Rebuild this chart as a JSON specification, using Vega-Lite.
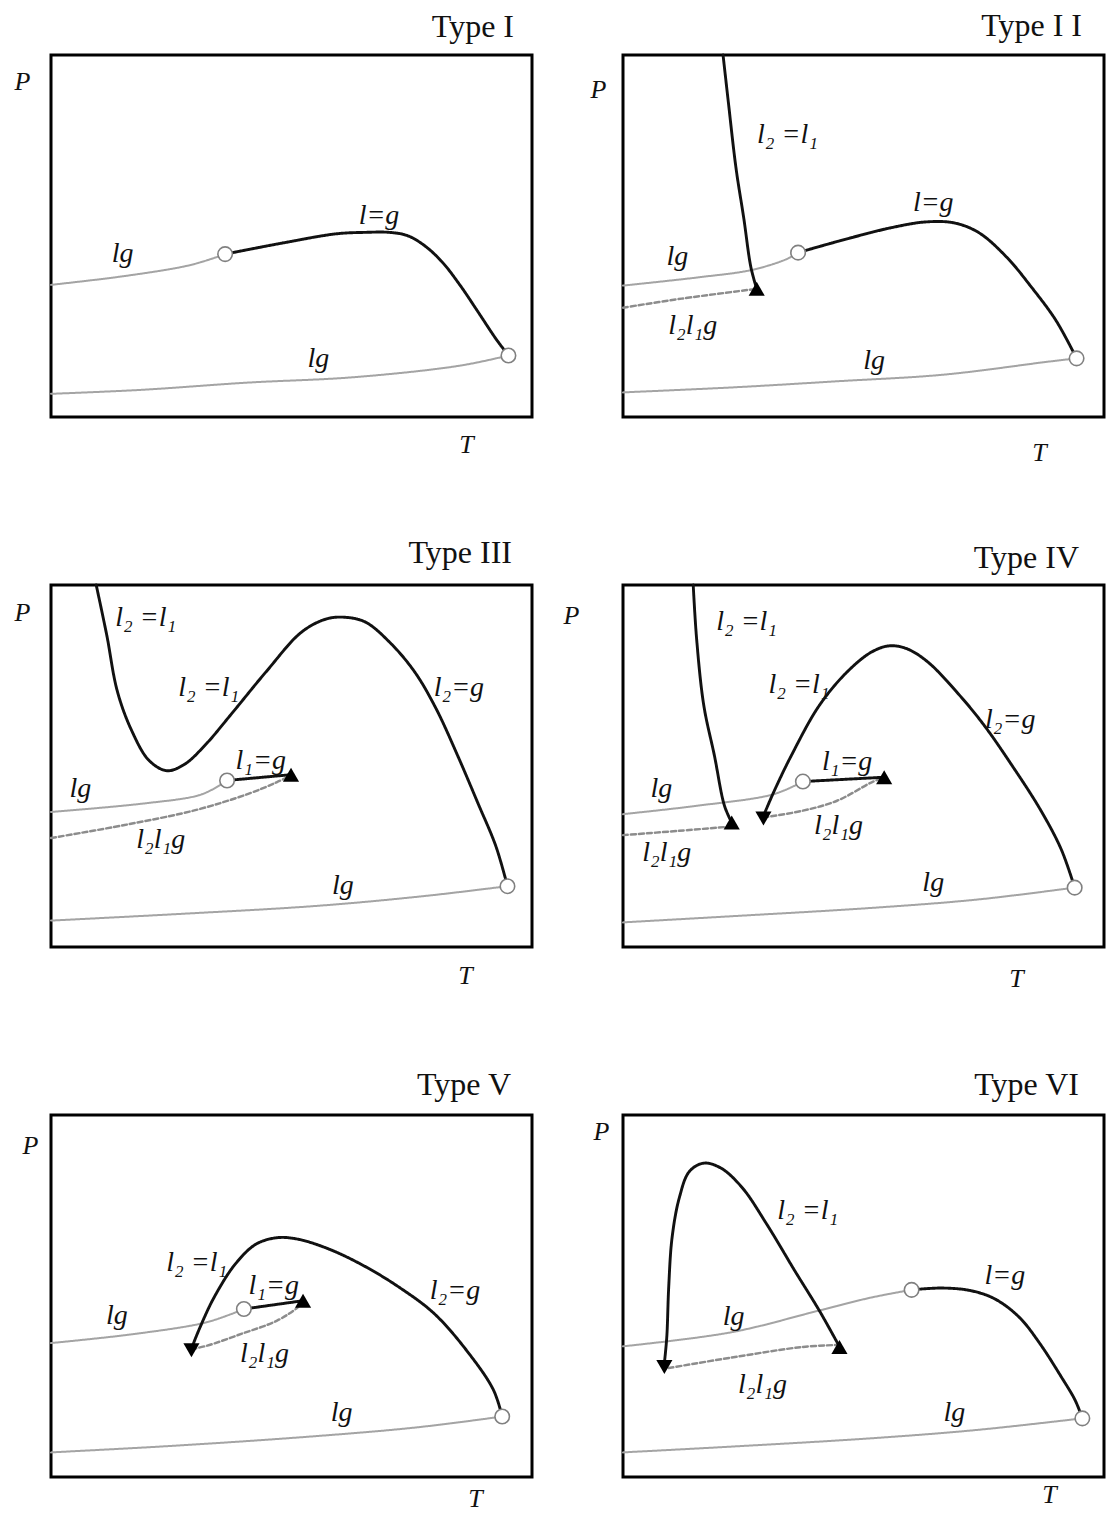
{
  "$schema": "https://vega.github.io/schema/vega-lite/v6.json",
  "background": "white",
  "padding": {"left": 12, "top": 8, "right": 0, "bottom": 0},
  "columns": 2,
  "spacing": {"row": 168, "column": 91},
  "bounds": "flush",
  "config": {
    "view": {"stroke": "#000000", "strokeWidth": 3},
    "font": "Liberation Serif",
    "title": {"font": "Liberation Serif", "fontSize": 32, "fontWeight": "normal", "anchor": "end", "frame": "group", "baseline": "alphabetic", "color": "#111111"},
    "axis": {"domain": false, "ticks": false, "labels": false, "grid": false, "titleFont": "Liberation Serif", "titleFontStyle": "italic", "titleFontWeight": "normal", "titleFontSize": 26, "titleAngle": 0, "titleAlign": "center", "titleBaseline": "middle", "titleColor": "#111111"},
    "line": {"interpolate": "catmull-rom", "clip": true, "strokeCap": "round"},
    "point": {"opacity": 1},
    "text": {"font": "Liberation Serif", "fontStyle": "italic", "fontSize": 28, "color": "#111111"}
  },
  "datasets": {
    "curves": [
      {"panel": "I", "curve": "a", "style": "lg", "i": 1, "T": 0, "P": 36.5},
      {"panel": "I", "curve": "a", "style": "lg", "i": 2, "T": 15.1, "P": 38.9},
      {"panel": "I", "curve": "a", "style": "lg", "i": 3, "T": 28.4, "P": 41.8},
      {"panel": "I", "curve": "a", "style": "lg", "i": 4, "T": 34.3, "P": 44.1},
      {"panel": "I", "curve": "a", "style": "lg", "i": 5, "T": 36.2, "P": 45.0},
      {"panel": "I", "curve": "b", "style": "lg", "i": 1, "T": 0, "P": 6.4},
      {"panel": "I", "curve": "b", "style": "lg", "i": 2, "T": 18.8, "P": 7.5},
      {"panel": "I", "curve": "b", "style": "lg", "i": 3, "T": 40.9, "P": 9.5},
      {"panel": "I", "curve": "b", "style": "lg", "i": 4, "T": 63.0, "P": 11.0},
      {"panel": "I", "curve": "b", "style": "lg", "i": 5, "T": 85.1, "P": 14.2},
      {"panel": "I", "curve": "b", "style": "lg", "i": 6, "T": 95.1, "P": 17.0},
      {"panel": "I", "curve": "c", "style": "crit", "i": 1, "T": 36.2, "P": 45.0},
      {"panel": "I", "curve": "c", "style": "crit", "i": 2, "T": 48.3, "P": 48.1},
      {"panel": "I", "curve": "c", "style": "crit", "i": 3, "T": 59.3, "P": 50.6},
      {"panel": "I", "curve": "c", "style": "crit", "i": 4, "T": 65.2, "P": 51.0},
      {"panel": "I", "curve": "c", "style": "crit", "i": 5, "T": 70.4, "P": 51.0},
      {"panel": "I", "curve": "c", "style": "crit", "i": 6, "T": 74.1, "P": 50.1},
      {"panel": "I", "curve": "c", "style": "crit", "i": 7, "T": 77.7, "P": 47.3},
      {"panel": "I", "curve": "c", "style": "crit", "i": 8, "T": 81.4, "P": 42.7},
      {"panel": "I", "curve": "c", "style": "crit", "i": 9, "T": 85.1, "P": 36.3},
      {"panel": "I", "curve": "c", "style": "crit", "i": 10, "T": 88.8, "P": 29.0},
      {"panel": "I", "curve": "c", "style": "crit", "i": 11, "T": 92.5, "P": 21.6},
      {"panel": "I", "curve": "c", "style": "crit", "i": 12, "T": 95.1, "P": 17.0},

      {"panel": "II", "curve": "a", "style": "lg", "i": 1, "T": 0, "P": 36.3},
      {"panel": "II", "curve": "a", "style": "lg", "i": 2, "T": 15.8, "P": 38.6},
      {"panel": "II", "curve": "a", "style": "lg", "i": 3, "T": 26.7, "P": 40.6},
      {"panel": "II", "curve": "a", "style": "lg", "i": 4, "T": 34.0, "P": 43.6},
      {"panel": "II", "curve": "a", "style": "lg", "i": 5, "T": 36.4, "P": 45.4},
      {"panel": "II", "curve": "b", "style": "lg", "i": 1, "T": 0, "P": 6.8},
      {"panel": "II", "curve": "b", "style": "lg", "i": 2, "T": 23.1, "P": 8.2},
      {"panel": "II", "curve": "b", "style": "lg", "i": 3, "T": 44.9, "P": 9.9},
      {"panel": "II", "curve": "b", "style": "lg", "i": 4, "T": 66.7, "P": 11.7},
      {"panel": "II", "curve": "b", "style": "lg", "i": 5, "T": 88.5, "P": 15.3},
      {"panel": "II", "curve": "b", "style": "lg", "i": 6, "T": 94.3, "P": 16.2},
      {"panel": "II", "curve": "d", "style": "llg", "i": 1, "T": 0, "P": 30.2},
      {"panel": "II", "curve": "d", "style": "llg", "i": 2, "T": 12.2, "P": 32.7},
      {"panel": "II", "curve": "d", "style": "llg", "i": 3, "T": 27.8, "P": 35.4},
      {"panel": "II", "curve": "e", "style": "crit", "i": 1, "T": 20.8, "P": 100},
      {"panel": "II", "curve": "e", "style": "crit", "i": 2, "T": 21.9, "P": 87.0},
      {"panel": "II", "curve": "e", "style": "crit", "i": 3, "T": 23.5, "P": 68.7},
      {"panel": "II", "curve": "e", "style": "crit", "i": 4, "T": 25.1, "P": 55.0},
      {"panel": "II", "curve": "e", "style": "crit", "i": 5, "T": 26.6, "P": 41.3},
      {"panel": "II", "curve": "e", "style": "crit", "i": 6, "T": 27.8, "P": 35.4},
      {"panel": "II", "curve": "c", "style": "crit", "i": 1, "T": 36.4, "P": 45.4},
      {"panel": "II", "curve": "c", "style": "crit", "i": 2, "T": 44.9, "P": 48.6},
      {"panel": "II", "curve": "c", "style": "crit", "i": 3, "T": 55.8, "P": 52.3},
      {"panel": "II", "curve": "c", "style": "crit", "i": 4, "T": 63.1, "P": 53.9},
      {"panel": "II", "curve": "c", "style": "crit", "i": 5, "T": 68.9, "P": 53.6},
      {"panel": "II", "curve": "c", "style": "crit", "i": 6, "T": 74.0, "P": 50.9},
      {"panel": "II", "curve": "c", "style": "crit", "i": 7, "T": 79.8, "P": 44.1},
      {"panel": "II", "curve": "c", "style": "crit", "i": 8, "T": 84.9, "P": 35.9},
      {"panel": "II", "curve": "c", "style": "crit", "i": 9, "T": 90.0, "P": 26.7},
      {"panel": "II", "curve": "c", "style": "crit", "i": 10, "T": 94.3, "P": 16.2},

      {"panel": "III", "curve": "a", "style": "lg", "i": 1, "T": 0, "P": 37.3},
      {"panel": "III", "curve": "a", "style": "lg", "i": 2, "T": 19.0, "P": 39.6},
      {"panel": "III", "curve": "a", "style": "lg", "i": 3, "T": 30.7, "P": 41.9},
      {"panel": "III", "curve": "a", "style": "lg", "i": 4, "T": 34.5, "P": 44.2},
      {"panel": "III", "curve": "a", "style": "lg", "i": 5, "T": 36.6, "P": 46.0},
      {"panel": "III", "curve": "b", "style": "lg", "i": 1, "T": 0, "P": 7.3},
      {"panel": "III", "curve": "b", "style": "lg", "i": 2, "T": 26.3, "P": 9.1},
      {"panel": "III", "curve": "b", "style": "lg", "i": 3, "T": 55.7, "P": 11.4},
      {"panel": "III", "curve": "b", "style": "lg", "i": 4, "T": 77.8, "P": 14.1},
      {"panel": "III", "curve": "b", "style": "lg", "i": 5, "T": 94.9, "P": 16.8},
      {"panel": "III", "curve": "d", "style": "llg", "i": 1, "T": 0, "P": 30.1},
      {"panel": "III", "curve": "d", "style": "llg", "i": 2, "T": 15.3, "P": 33.7},
      {"panel": "III", "curve": "d", "style": "llg", "i": 3, "T": 30.0, "P": 37.8},
      {"panel": "III", "curve": "d", "style": "llg", "i": 4, "T": 41.0, "P": 42.3},
      {"panel": "III", "curve": "d", "style": "llg", "i": 5, "T": 46.9, "P": 45.5},
      {"panel": "III", "curve": "d", "style": "llg", "i": 6, "T": 49.9, "P": 47.4},
      {"panel": "III", "curve": "f", "style": "crit", "i": 1, "T": 36.6, "P": 46.0},
      {"panel": "III", "curve": "f", "style": "crit", "i": 2, "T": 49.9, "P": 47.6},
      {"panel": "III", "curve": "e", "style": "crit", "i": 1, "T": 9.4, "P": 100},
      {"panel": "III", "curve": "e", "style": "crit", "i": 2, "T": 11.6, "P": 86.1},
      {"panel": "III", "curve": "e", "style": "crit", "i": 3, "T": 13.8, "P": 70.6},
      {"panel": "III", "curve": "e", "style": "crit", "i": 4, "T": 16.8, "P": 59.7},
      {"panel": "III", "curve": "e", "style": "crit", "i": 5, "T": 20.4, "P": 51.5},
      {"panel": "III", "curve": "e", "style": "crit", "i": 6, "T": 24.1, "P": 48.7},
      {"panel": "III", "curve": "e", "style": "crit", "i": 7, "T": 27.8, "P": 50.5},
      {"panel": "III", "curve": "e", "style": "crit", "i": 8, "T": 32.2, "P": 56.0},
      {"panel": "III", "curve": "e", "style": "crit", "i": 9, "T": 37.4, "P": 64.2},
      {"panel": "III", "curve": "e", "style": "crit", "i": 10, "T": 44.7, "P": 76.0},
      {"panel": "III", "curve": "e", "style": "crit", "i": 11, "T": 52.1, "P": 87.0},
      {"panel": "III", "curve": "e", "style": "crit", "i": 12, "T": 57.2, "P": 90.6},
      {"panel": "III", "curve": "e", "style": "crit", "i": 13, "T": 60.9, "P": 91.1},
      {"panel": "III", "curve": "e", "style": "crit", "i": 14, "T": 65.3, "P": 89.8},
      {"panel": "III", "curve": "e", "style": "crit", "i": 15, "T": 70.4, "P": 84.2},
      {"panel": "III", "curve": "e", "style": "crit", "i": 16, "T": 75.6, "P": 76.0},
      {"panel": "III", "curve": "e", "style": "crit", "i": 17, "T": 80.0, "P": 66.0},
      {"panel": "III", "curve": "e", "style": "crit", "i": 18, "T": 84.4, "P": 53.3},
      {"panel": "III", "curve": "e", "style": "crit", "i": 19, "T": 88.8, "P": 39.6},
      {"panel": "III", "curve": "e", "style": "crit", "i": 20, "T": 92.5, "P": 27.8},
      {"panel": "III", "curve": "e", "style": "crit", "i": 21, "T": 94.9, "P": 16.8},

      {"panel": "IV", "curve": "a", "style": "lg", "i": 1, "T": 0, "P": 36.7},
      {"panel": "IV", "curve": "a", "style": "lg", "i": 2, "T": 15.3, "P": 39.0},
      {"panel": "IV", "curve": "a", "style": "lg", "i": 3, "T": 31.3, "P": 42.2},
      {"panel": "IV", "curve": "a", "style": "lg", "i": 4, "T": 37.4, "P": 45.7},
      {"panel": "IV", "curve": "b", "style": "lg", "i": 1, "T": 0, "P": 6.8},
      {"panel": "IV", "curve": "b", "style": "lg", "i": 2, "T": 22.6, "P": 8.5},
      {"panel": "IV", "curve": "b", "style": "lg", "i": 3, "T": 51.7, "P": 10.8},
      {"panel": "IV", "curve": "b", "style": "lg", "i": 4, "T": 73.6, "P": 13.1},
      {"panel": "IV", "curve": "b", "style": "lg", "i": 5, "T": 93.9, "P": 16.4},
      {"panel": "IV", "curve": "d", "style": "llg", "i": 1, "T": 0, "P": 30.9},
      {"panel": "IV", "curve": "d", "style": "llg", "i": 2, "T": 11.7, "P": 32.1},
      {"panel": "IV", "curve": "d", "style": "llg", "i": 3, "T": 22.6, "P": 33.3},
      {"panel": "IV", "curve": "g", "style": "llg", "i": 1, "T": 29.2, "P": 35.8},
      {"panel": "IV", "curve": "g", "style": "llg", "i": 2, "T": 37.2, "P": 37.6},
      {"panel": "IV", "curve": "g", "style": "llg", "i": 3, "T": 44.5, "P": 40.4},
      {"panel": "IV", "curve": "g", "style": "llg", "i": 4, "T": 51.7, "P": 45.5},
      {"panel": "IV", "curve": "g", "style": "llg", "i": 5, "T": 54.3, "P": 46.9},
      {"panel": "IV", "curve": "e", "style": "crit", "i": 1, "T": 14.6, "P": 100},
      {"panel": "IV", "curve": "e", "style": "crit", "i": 2, "T": 15.3, "P": 85.2},
      {"panel": "IV", "curve": "e", "style": "crit", "i": 3, "T": 16.8, "P": 66.7},
      {"panel": "IV", "curve": "e", "style": "crit", "i": 4, "T": 19.0, "P": 52.9},
      {"panel": "IV", "curve": "e", "style": "crit", "i": 5, "T": 21.1, "P": 39.0},
      {"panel": "IV", "curve": "e", "style": "crit", "i": 6, "T": 22.6, "P": 34.4},
      {"panel": "IV", "curve": "f", "style": "crit", "i": 1, "T": 37.4, "P": 45.7},
      {"panel": "IV", "curve": "f", "style": "crit", "i": 2, "T": 54.3, "P": 46.9},
      {"panel": "IV", "curve": "c", "style": "crit", "i": 1, "T": 29.2, "P": 36.2},
      {"panel": "IV", "curve": "c", "style": "crit", "i": 2, "T": 31.3, "P": 42.7},
      {"panel": "IV", "curve": "c", "style": "crit", "i": 3, "T": 35.0, "P": 52.9},
      {"panel": "IV", "curve": "c", "style": "crit", "i": 4, "T": 40.8, "P": 66.7},
      {"panel": "IV", "curve": "c", "style": "crit", "i": 5, "T": 46.6, "P": 76.0},
      {"panel": "IV", "curve": "c", "style": "crit", "i": 6, "T": 51.7, "P": 81.5},
      {"panel": "IV", "curve": "c", "style": "crit", "i": 7, "T": 55.4, "P": 83.2},
      {"panel": "IV", "curve": "c", "style": "crit", "i": 8, "T": 59.0, "P": 82.4},
      {"panel": "IV", "curve": "c", "style": "crit", "i": 9, "T": 63.4, "P": 78.7},
      {"panel": "IV", "curve": "c", "style": "crit", "i": 10, "T": 70.0, "P": 69.5},
      {"panel": "IV", "curve": "c", "style": "crit", "i": 11, "T": 75.1, "P": 61.2},
      {"panel": "IV", "curve": "c", "style": "crit", "i": 12, "T": 80.9, "P": 50.1},
      {"panel": "IV", "curve": "c", "style": "crit", "i": 13, "T": 86.7, "P": 38.1},
      {"panel": "IV", "curve": "c", "style": "crit", "i": 14, "T": 91.1, "P": 27.0},
      {"panel": "IV", "curve": "c", "style": "crit", "i": 15, "T": 93.9, "P": 16.4},

      {"panel": "V", "curve": "a", "style": "lg", "i": 1, "T": 0, "P": 37.0},
      {"panel": "V", "curve": "a", "style": "lg", "i": 2, "T": 17.9, "P": 39.6},
      {"panel": "V", "curve": "a", "style": "lg", "i": 3, "T": 32.5, "P": 42.8},
      {"panel": "V", "curve": "a", "style": "lg", "i": 4, "T": 40.1, "P": 46.4},
      {"panel": "V", "curve": "b", "style": "lg", "i": 1, "T": 0, "P": 6.8},
      {"panel": "V", "curve": "b", "style": "lg", "i": 2, "T": 25.2, "P": 8.6},
      {"panel": "V", "curve": "b", "style": "lg", "i": 3, "T": 54.2, "P": 11.2},
      {"panel": "V", "curve": "b", "style": "lg", "i": 4, "T": 76.0, "P": 13.7},
      {"panel": "V", "curve": "b", "style": "lg", "i": 5, "T": 93.8, "P": 16.7},
      {"panel": "V", "curve": "g", "style": "llg", "i": 1, "T": 29.2, "P": 35.3},
      {"panel": "V", "curve": "g", "style": "llg", "i": 2, "T": 32.5, "P": 36.3},
      {"panel": "V", "curve": "g", "style": "llg", "i": 3, "T": 39.7, "P": 39.6},
      {"panel": "V", "curve": "g", "style": "llg", "i": 4, "T": 47.0, "P": 43.2},
      {"panel": "V", "curve": "g", "style": "llg", "i": 5, "T": 51.3, "P": 46.9},
      {"panel": "V", "curve": "g", "style": "llg", "i": 6, "T": 52.4, "P": 48.7},
      {"panel": "V", "curve": "f", "style": "crit", "i": 1, "T": 40.1, "P": 46.4},
      {"panel": "V", "curve": "f", "style": "crit", "i": 2, "T": 52.4, "P": 48.7},
      {"panel": "V", "curve": "c", "style": "crit", "i": 1, "T": 29.2, "P": 35.5},
      {"panel": "V", "curve": "c", "style": "crit", "i": 2, "T": 31.0, "P": 41.4},
      {"panel": "V", "curve": "c", "style": "crit", "i": 3, "T": 33.9, "P": 49.6},
      {"panel": "V", "curve": "c", "style": "crit", "i": 4, "T": 38.3, "P": 58.8},
      {"panel": "V", "curve": "c", "style": "crit", "i": 5, "T": 42.6, "P": 64.3},
      {"panel": "V", "curve": "c", "style": "crit", "i": 6, "T": 47.0, "P": 66.1},
      {"panel": "V", "curve": "c", "style": "crit", "i": 7, "T": 51.3, "P": 65.7},
      {"panel": "V", "curve": "c", "style": "crit", "i": 8, "T": 57.9, "P": 62.9},
      {"panel": "V", "curve": "c", "style": "crit", "i": 9, "T": 65.1, "P": 58.3},
      {"panel": "V", "curve": "c", "style": "crit", "i": 10, "T": 72.4, "P": 52.4},
      {"panel": "V", "curve": "c", "style": "crit", "i": 11, "T": 79.7, "P": 45.1},
      {"panel": "V", "curve": "c", "style": "crit", "i": 12, "T": 86.9, "P": 34.1},
      {"panel": "V", "curve": "c", "style": "crit", "i": 13, "T": 92.0, "P": 24.0},
      {"panel": "V", "curve": "c", "style": "crit", "i": 14, "T": 93.8, "P": 16.7},

      {"panel": "VI", "curve": "a", "style": "lg", "i": 1, "T": 0, "P": 36.1},
      {"panel": "VI", "curve": "a", "style": "lg", "i": 2, "T": 22.6, "P": 40.0},
      {"panel": "VI", "curve": "a", "style": "lg", "i": 3, "T": 40.8, "P": 46.0},
      {"panel": "VI", "curve": "a", "style": "lg", "i": 4, "T": 51.7, "P": 49.6},
      {"panel": "VI", "curve": "a", "style": "lg", "i": 5, "T": 60.0, "P": 51.7},
      {"panel": "VI", "curve": "b", "style": "lg", "i": 1, "T": 0, "P": 6.8},
      {"panel": "VI", "curve": "b", "style": "lg", "i": 2, "T": 22.6, "P": 8.4},
      {"panel": "VI", "curve": "b", "style": "lg", "i": 3, "T": 51.7, "P": 10.7},
      {"panel": "VI", "curve": "b", "style": "lg", "i": 4, "T": 73.6, "P": 13.0},
      {"panel": "VI", "curve": "b", "style": "lg", "i": 5, "T": 95.5, "P": 16.2},
      {"panel": "VI", "curve": "g", "style": "llg", "i": 1, "T": 9.5, "P": 30.1},
      {"panel": "VI", "curve": "g", "style": "llg", "i": 2, "T": 22.6, "P": 33.0},
      {"panel": "VI", "curve": "g", "style": "llg", "i": 3, "T": 37.2, "P": 35.9},
      {"panel": "VI", "curve": "g", "style": "llg", "i": 4, "T": 45.0, "P": 36.5},
      {"panel": "VI", "curve": "e", "style": "crit", "i": 1, "T": 8.6, "P": 31.5},
      {"panel": "VI", "curve": "e", "style": "crit", "i": 2, "T": 9.1, "P": 38.6},
      {"panel": "VI", "curve": "e", "style": "crit", "i": 3, "T": 9.5, "P": 52.4},
      {"panel": "VI", "curve": "e", "style": "crit", "i": 4, "T": 10.2, "P": 66.1},
      {"panel": "VI", "curve": "e", "style": "crit", "i": 5, "T": 11.7, "P": 77.1},
      {"panel": "VI", "curve": "e", "style": "crit", "i": 6, "T": 13.8, "P": 84.4},
      {"panel": "VI", "curve": "e", "style": "crit", "i": 7, "T": 16.8, "P": 86.7},
      {"panel": "VI", "curve": "e", "style": "crit", "i": 8, "T": 20.4, "P": 85.3},
      {"panel": "VI", "curve": "e", "style": "crit", "i": 9, "T": 24.8, "P": 79.9},
      {"panel": "VI", "curve": "e", "style": "crit", "i": 10, "T": 29.9, "P": 69.8},
      {"panel": "VI", "curve": "e", "style": "crit", "i": 11, "T": 35.7, "P": 57.0},
      {"panel": "VI", "curve": "e", "style": "crit", "i": 12, "T": 40.8, "P": 46.0},
      {"panel": "VI", "curve": "e", "style": "crit", "i": 13, "T": 44.8, "P": 36.5},
      {"panel": "VI", "curve": "c", "style": "crit", "i": 1, "T": 60.0, "P": 51.7},
      {"panel": "VI", "curve": "c", "style": "crit", "i": 2, "T": 66.3, "P": 52.2},
      {"panel": "VI", "curve": "c", "style": "crit", "i": 3, "T": 72.2, "P": 51.5},
      {"panel": "VI", "curve": "c", "style": "crit", "i": 4, "T": 77.3, "P": 49.2},
      {"panel": "VI", "curve": "c", "style": "crit", "i": 5, "T": 82.4, "P": 44.1},
      {"panel": "VI", "curve": "c", "style": "crit", "i": 6, "T": 86.7, "P": 36.8},
      {"panel": "VI", "curve": "c", "style": "crit", "i": 7, "T": 91.1, "P": 27.7},
      {"panel": "VI", "curve": "c", "style": "crit", "i": 8, "T": 94.0, "P": 21.2},
      {"panel": "VI", "curve": "c", "style": "crit", "i": 9, "T": 95.5, "P": 16.2}
    ],
    "points": [
      {"panel": "I", "kind": "crit", "T": 36.2, "P": 45.0},
      {"panel": "I", "kind": "crit", "T": 95.1, "P": 17.0},
      {"panel": "II", "kind": "crit", "T": 36.4, "P": 45.4},
      {"panel": "II", "kind": "crit", "T": 94.3, "P": 16.2},
      {"panel": "II", "kind": "ucep", "T": 27.8, "P": 35.4},
      {"panel": "III", "kind": "crit", "T": 36.6, "P": 46.0},
      {"panel": "III", "kind": "crit", "T": 94.9, "P": 16.8},
      {"panel": "III", "kind": "ucep", "T": 49.9, "P": 47.6},
      {"panel": "IV", "kind": "crit", "T": 37.4, "P": 45.7},
      {"panel": "IV", "kind": "crit", "T": 93.9, "P": 16.4},
      {"panel": "IV", "kind": "ucep", "T": 22.6, "P": 34.4},
      {"panel": "IV", "kind": "lcep", "T": 29.2, "P": 35.5},
      {"panel": "IV", "kind": "ucep", "T": 54.3, "P": 46.9},
      {"panel": "V", "kind": "crit", "T": 40.1, "P": 46.4},
      {"panel": "V", "kind": "crit", "T": 93.8, "P": 16.7},
      {"panel": "V", "kind": "lcep", "T": 29.2, "P": 35.0},
      {"panel": "V", "kind": "ucep", "T": 52.4, "P": 48.7},
      {"panel": "VI", "kind": "crit", "T": 60.0, "P": 51.7},
      {"panel": "VI", "kind": "crit", "T": 95.5, "P": 16.2},
      {"panel": "VI", "kind": "lcep", "T": 8.6, "P": 30.4},
      {"panel": "VI", "kind": "ucep", "T": 45.0, "P": 35.9}
    ],
    "labels": [
      {"panel": "I", "text": "lg", "T": 14.9, "P": 45.0},
      {"panel": "I", "text": "l=g", "T": 68.2, "P": 55.6},
      {"panel": "I", "text": "lg", "T": 55.6, "P": 16.1},
      {"panel": "II", "text": "l₂ =l₁", "T": 34.2, "P": 77.8},
      {"panel": "II", "text": "l=g", "T": 64.5, "P": 59.1},
      {"panel": "II", "text": "lg", "T": 11.3, "P": 44.1},
      {"panel": "II", "text": "l₂l₁g", "T": 14.5, "P": 25.1},
      {"panel": "II", "text": "lg", "T": 52.2, "P": 15.6},
      {"panel": "III", "text": "l₂ =l₁", "T": 19.7, "P": 90.8},
      {"panel": "III", "text": "l₂ =l₁", "T": 32.8, "P": 71.5},
      {"panel": "III", "text": "l₂=g", "T": 84.8, "P": 71.5},
      {"panel": "III", "text": "l₁=g", "T": 43.6, "P": 51.3},
      {"panel": "III", "text": "lg", "T": 6.1, "P": 43.7},
      {"panel": "III", "text": "l₂l₁g", "T": 22.8, "P": 29.6},
      {"panel": "III", "text": "lg", "T": 60.7, "P": 16.8},
      {"panel": "IV", "text": "l₂ =l₁", "T": 25.7, "P": 89.8},
      {"panel": "IV", "text": "l₂ =l₁", "T": 36.6, "P": 72.3},
      {"panel": "IV", "text": "l₂=g", "T": 80.5, "P": 62.6},
      {"panel": "IV", "text": "l₁=g", "T": 46.6, "P": 51.0},
      {"panel": "IV", "text": "lg", "T": 8.0, "P": 43.6},
      {"panel": "IV", "text": "l₂l₁g", "T": 9.1, "P": 25.9},
      {"panel": "IV", "text": "l₂l₁g", "T": 44.8, "P": 33.5},
      {"panel": "IV", "text": "lg", "T": 64.5, "P": 17.7},
      {"panel": "V", "text": "l₂ =l₁", "T": 30.3, "P": 59.2},
      {"panel": "V", "text": "l₁=g", "T": 46.3, "P": 52.8},
      {"panel": "V", "text": "l₂=g", "T": 84.0, "P": 51.3},
      {"panel": "V", "text": "lg", "T": 13.7, "P": 44.6},
      {"panel": "V", "text": "l₂l₁g", "T": 44.4, "P": 34.1},
      {"panel": "V", "text": "lg", "T": 60.4, "P": 17.6},
      {"panel": "VI", "text": "l₂ =l₁", "T": 38.4, "P": 73.6},
      {"panel": "VI", "text": "l=g", "T": 79.4, "P": 55.6},
      {"panel": "VI", "text": "lg", "T": 23.0, "P": 44.1},
      {"panel": "VI", "text": "l₂l₁g", "T": 29.0, "P": 25.4},
      {"panel": "VI", "text": "lg", "T": 68.9, "P": 17.6}
    ]
  },
  "concat": [
    {
      "width": 481, "height": 362,
      "title": {"text": "Type I", "dx": -18, "offset": 11},
      "encoding": {
        "x": {"field": "T", "type": "quantitative", "scale": {"domain": [0, 100], "nice": false, "zero": false}, "axis": {"title": "T", "titleX": 415, "titleY": 27}},
        "y": {"field": "P", "type": "quantitative", "scale": {"domain": [0, 100], "nice": false, "zero": false}, "axis": {"title": "P", "titleX": -29, "titleY": 26}}
      },
      "layer": [
        {"data": {"name": "curves"}, "transform": [{"filter": "datum.panel === 'I'"}], "mark": "line",
         "encoding": {"detail": {"field": "curve"}, "order": {"field": "i", "type": "quantitative"},
           "color": {"field": "style", "type": "nominal", "scale": {"domain": ["lg", "llg", "crit"], "range": ["#a4a4a4", "#8c8c8c", "#111111"]}, "legend": null},
           "strokeWidth": {"field": "style", "type": "ordinal", "scale": {"domain": ["lg", "llg", "crit"], "range": [2, 2.9]}, "legend": null},
           "strokeDash": {"field": "style", "type": "nominal", "scale": {"domain": ["lg", "llg", "crit"], "range": [[1, 0], [5, 3], [1, 0]]}, "legend": null}}},
        {"data": {"name": "points"}, "transform": [{"filter": "datum.panel === 'I' && datum.kind === 'crit'"}], "mark": {"type": "point", "shape": "circle", "filled": true, "fill": "white", "stroke": "#808080", "strokeWidth": 1.6, "size": 210, "opacity": 1}},
        {"data": {"name": "points"}, "transform": [{"filter": "datum.panel === 'I' && datum.kind !== 'crit'"}], "mark": {"type": "point", "filled": true, "color": "#000000", "size": 260, "opacity": 1},
         "encoding": {"shape": {"field": "kind", "type": "nominal", "scale": {"domain": ["ucep", "lcep"], "range": ["triangle-up", "triangle-down"]}, "legend": null}}},
        {"data": {"name": "labels"}, "transform": [{"filter": "datum.panel === 'I'"}], "mark": "text", "encoding": {"text": {"field": "text"}}}
      ]
    },
    {
      "width": 481, "height": 362,
      "title": {"text": "Type I I", "dx": -22, "offset": 6},
      "encoding": {
        "x": {"field": "T", "type": "quantitative", "scale": {"domain": [0, 100], "nice": false, "zero": false}, "axis": {"title": "T", "titleX": 416, "titleY": 35}},
        "y": {"field": "P", "type": "quantitative", "scale": {"domain": [0, 100], "nice": false, "zero": false}, "axis": {"title": "P", "titleX": -25, "titleY": 34}}
      },
      "layer": [
        {"data": {"name": "curves"}, "transform": [{"filter": "datum.panel === 'II'"}], "mark": "line",
         "encoding": {"detail": {"field": "curve"}, "order": {"field": "i", "type": "quantitative"},
           "color": {"field": "style", "type": "nominal", "scale": {"domain": ["lg", "llg", "crit"], "range": ["#a4a4a4", "#8c8c8c", "#111111"]}, "legend": null},
           "strokeWidth": {"field": "style", "type": "ordinal", "scale": {"domain": ["lg", "llg", "crit"], "range": [2, 2.9]}, "legend": null},
           "strokeDash": {"field": "style", "type": "nominal", "scale": {"domain": ["lg", "llg", "crit"], "range": [[1, 0], [5, 3], [1, 0]]}, "legend": null}}},
        {"data": {"name": "points"}, "transform": [{"filter": "datum.panel === 'II' && datum.kind === 'crit'"}], "mark": {"type": "point", "shape": "circle", "filled": true, "fill": "white", "stroke": "#808080", "strokeWidth": 1.6, "size": 210, "opacity": 1}},
        {"data": {"name": "points"}, "transform": [{"filter": "datum.panel === 'II' && datum.kind !== 'crit'"}], "mark": {"type": "point", "filled": true, "color": "#000000", "size": 260, "opacity": 1},
         "encoding": {"shape": {"field": "kind", "type": "nominal", "scale": {"domain": ["ucep", "lcep"], "range": ["triangle-up", "triangle-down"]}, "legend": null}}},
        {"data": {"name": "labels"}, "transform": [{"filter": "datum.panel === 'II'"}], "mark": "text", "encoding": {"text": {"field": "text"}}}
      ]
    },
    {
      "width": 481, "height": 362,
      "title": {"text": "Type III", "dx": -20, "offset": 9},
      "encoding": {
        "x": {"field": "T", "type": "quantitative", "scale": {"domain": [0, 100], "nice": false, "zero": false}, "axis": {"title": "T", "titleX": 414, "titleY": 28}},
        "y": {"field": "P", "type": "quantitative", "scale": {"domain": [0, 100], "nice": false, "zero": false}, "axis": {"title": "P", "titleX": -29, "titleY": 27}}
      },
      "layer": [
        {"data": {"name": "curves"}, "transform": [{"filter": "datum.panel === 'III'"}], "mark": "line",
         "encoding": {"detail": {"field": "curve"}, "order": {"field": "i", "type": "quantitative"},
           "color": {"field": "style", "type": "nominal", "scale": {"domain": ["lg", "llg", "crit"], "range": ["#a4a4a4", "#8c8c8c", "#111111"]}, "legend": null},
           "strokeWidth": {"field": "style", "type": "ordinal", "scale": {"domain": ["lg", "llg", "crit"], "range": [2, 2.9]}, "legend": null},
           "strokeDash": {"field": "style", "type": "nominal", "scale": {"domain": ["lg", "llg", "crit"], "range": [[1, 0], [5, 3], [1, 0]]}, "legend": null}}},
        {"data": {"name": "points"}, "transform": [{"filter": "datum.panel === 'III' && datum.kind === 'crit'"}], "mark": {"type": "point", "shape": "circle", "filled": true, "fill": "white", "stroke": "#808080", "strokeWidth": 1.6, "size": 210, "opacity": 1}},
        {"data": {"name": "points"}, "transform": [{"filter": "datum.panel === 'III' && datum.kind !== 'crit'"}], "mark": {"type": "point", "filled": true, "color": "#000000", "size": 260, "opacity": 1},
         "encoding": {"shape": {"field": "kind", "type": "nominal", "scale": {"domain": ["ucep", "lcep"], "range": ["triangle-up", "triangle-down"]}, "legend": null}}},
        {"data": {"name": "labels"}, "transform": [{"filter": "datum.panel === 'III'"}], "mark": "text", "encoding": {"text": {"field": "text"}}}
      ]
    },
    {
      "width": 481, "height": 362,
      "title": {"text": "Type IV", "dx": -25, "offset": 4},
      "encoding": {
        "x": {"field": "T", "type": "quantitative", "scale": {"domain": [0, 100], "nice": false, "zero": false}, "axis": {"title": "T", "titleX": 393, "titleY": 31}},
        "y": {"field": "P", "type": "quantitative", "scale": {"domain": [0, 100], "nice": false, "zero": false}, "axis": {"title": "P", "titleX": -52, "titleY": 30}}
      },
      "layer": [
        {"data": {"name": "curves"}, "transform": [{"filter": "datum.panel === 'IV'"}], "mark": "line",
         "encoding": {"detail": {"field": "curve"}, "order": {"field": "i", "type": "quantitative"},
           "color": {"field": "style", "type": "nominal", "scale": {"domain": ["lg", "llg", "crit"], "range": ["#a4a4a4", "#8c8c8c", "#111111"]}, "legend": null},
           "strokeWidth": {"field": "style", "type": "ordinal", "scale": {"domain": ["lg", "llg", "crit"], "range": [2, 2.9]}, "legend": null},
           "strokeDash": {"field": "style", "type": "nominal", "scale": {"domain": ["lg", "llg", "crit"], "range": [[1, 0], [5, 3], [1, 0]]}, "legend": null}}},
        {"data": {"name": "points"}, "transform": [{"filter": "datum.panel === 'IV' && datum.kind === 'crit'"}], "mark": {"type": "point", "shape": "circle", "filled": true, "fill": "white", "stroke": "#808080", "strokeWidth": 1.6, "size": 210, "opacity": 1}},
        {"data": {"name": "points"}, "transform": [{"filter": "datum.panel === 'IV' && datum.kind !== 'crit'"}], "mark": {"type": "point", "filled": true, "color": "#000000", "size": 260, "opacity": 1},
         "encoding": {"shape": {"field": "kind", "type": "nominal", "scale": {"domain": ["ucep", "lcep"], "range": ["triangle-up", "triangle-down"]}, "legend": null}}},
        {"data": {"name": "labels"}, "transform": [{"filter": "datum.panel === 'IV'"}], "mark": "text", "encoding": {"text": {"field": "text"}}}
      ]
    },
    {
      "width": 481, "height": 362,
      "title": {"text": "Type V", "dx": -21, "offset": 13},
      "encoding": {
        "x": {"field": "T", "type": "quantitative", "scale": {"domain": [0, 100], "nice": false, "zero": false}, "axis": {"title": "T", "titleX": 424, "titleY": 21}},
        "y": {"field": "P", "type": "quantitative", "scale": {"domain": [0, 100], "nice": false, "zero": false}, "axis": {"title": "P", "titleX": -21, "titleY": 30}}
      },
      "layer": [
        {"data": {"name": "curves"}, "transform": [{"filter": "datum.panel === 'V'"}], "mark": "line",
         "encoding": {"detail": {"field": "curve"}, "order": {"field": "i", "type": "quantitative"},
           "color": {"field": "style", "type": "nominal", "scale": {"domain": ["lg", "llg", "crit"], "range": ["#a4a4a4", "#8c8c8c", "#111111"]}, "legend": null},
           "strokeWidth": {"field": "style", "type": "ordinal", "scale": {"domain": ["lg", "llg", "crit"], "range": [2, 2.9]}, "legend": null},
           "strokeDash": {"field": "style", "type": "nominal", "scale": {"domain": ["lg", "llg", "crit"], "range": [[1, 0], [5, 3], [1, 0]]}, "legend": null}}},
        {"data": {"name": "points"}, "transform": [{"filter": "datum.panel === 'V' && datum.kind === 'crit'"}], "mark": {"type": "point", "shape": "circle", "filled": true, "fill": "white", "stroke": "#808080", "strokeWidth": 1.6, "size": 210, "opacity": 1}},
        {"data": {"name": "points"}, "transform": [{"filter": "datum.panel === 'V' && datum.kind !== 'crit'"}], "mark": {"type": "point", "filled": true, "color": "#000000", "size": 260, "opacity": 1},
         "encoding": {"shape": {"field": "kind", "type": "nominal", "scale": {"domain": ["ucep", "lcep"], "range": ["triangle-up", "triangle-down"]}, "legend": null}}},
        {"data": {"name": "labels"}, "transform": [{"filter": "datum.panel === 'V'"}], "mark": "text", "encoding": {"text": {"field": "text"}}}
      ]
    },
    {
      "width": 481, "height": 362,
      "title": {"text": "Type VI", "dx": -25, "offset": 13},
      "encoding": {
        "x": {"field": "T", "type": "quantitative", "scale": {"domain": [0, 100], "nice": false, "zero": false}, "axis": {"title": "T", "titleX": 426, "titleY": 17}},
        "y": {"field": "P", "type": "quantitative", "scale": {"domain": [0, 100], "nice": false, "zero": false}, "axis": {"title": "P", "titleX": -22, "titleY": 16}}
      },
      "layer": [
        {"data": {"name": "curves"}, "transform": [{"filter": "datum.panel === 'VI'"}], "mark": "line",
         "encoding": {"detail": {"field": "curve"}, "order": {"field": "i", "type": "quantitative"},
           "color": {"field": "style", "type": "nominal", "scale": {"domain": ["lg", "llg", "crit"], "range": ["#a4a4a4", "#8c8c8c", "#111111"]}, "legend": null},
           "strokeWidth": {"field": "style", "type": "ordinal", "scale": {"domain": ["lg", "llg", "crit"], "range": [2, 2.9]}, "legend": null},
           "strokeDash": {"field": "style", "type": "nominal", "scale": {"domain": ["lg", "llg", "crit"], "range": [[1, 0], [5, 3], [1, 0]]}, "legend": null}}},
        {"data": {"name": "points"}, "transform": [{"filter": "datum.panel === 'VI' && datum.kind === 'crit'"}], "mark": {"type": "point", "shape": "circle", "filled": true, "fill": "white", "stroke": "#808080", "strokeWidth": 1.6, "size": 210, "opacity": 1}},
        {"data": {"name": "points"}, "transform": [{"filter": "datum.panel === 'VI' && datum.kind !== 'crit'"}], "mark": {"type": "point", "filled": true, "color": "#000000", "size": 260, "opacity": 1},
         "encoding": {"shape": {"field": "kind", "type": "nominal", "scale": {"domain": ["ucep", "lcep"], "range": ["triangle-up", "triangle-down"]}, "legend": null}}},
        {"data": {"name": "labels"}, "transform": [{"filter": "datum.panel === 'VI'"}], "mark": "text", "encoding": {"text": {"field": "text"}}}
      ]
    }
  ]
}
